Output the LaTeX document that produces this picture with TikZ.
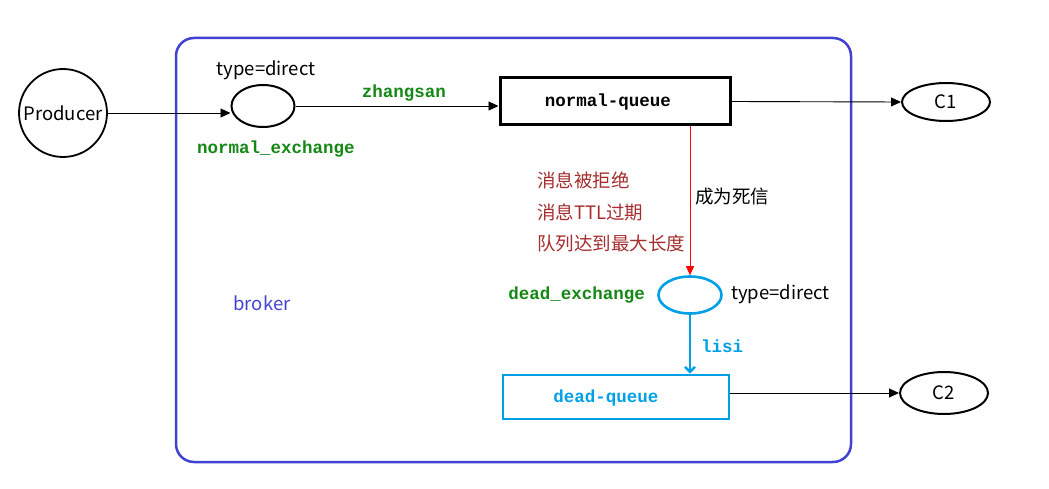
\documentclass[tikz,border=0pt]{standalone}
\usepackage{fontspec}
\setmainfont{Noto Sans CJK SC}
\newfontfamily\codefont{Liberation Mono}
\usetikzlibrary{shapes.geometric,arrows.meta}
\definecolor{brokerblue}{RGB}{66,66,210}
\definecolor{keygreen}{RGB}{20,135,20}
\definecolor{deadcyan}{RGB}{0,160,230}
\definecolor{reasonred}{RGB}{165,45,45}
\tikzset{
  x=1pt, y=-1pt,
  txt/.style={inner sep=0pt, font=\fontsize{18.5}{22}\selectfont},
  code/.style={inner sep=0pt, font=\codefont\bfseries\fontsize{17.5}{20}\selectfont},
  xchg/.style={ellipse, draw, line width=2pt, inner sep=0pt},
  cons/.style={ellipse, draw, line width=2pt, inner sep=0pt, minimum width=88pt, minimum height=38pt, font=\fontsize{18.5}{22}\selectfont},
  flow/.style={line width=0.9pt, -{Triangle[length=10pt,width=9pt]}},
}
\begin{document}
\begin{tikzpicture}
\useasboundingbox (0,0) rectangle (1049,489);

% broker boundary
\draw[brokerblue, line width=2.5pt, rounded corners=18pt] (176,38) rectangle (851,462);
\node[txt, text=brokerblue] (broker) at (262,303) {broker};

% producer and normal exchange
\node[circle, draw, line width=1.8pt, minimum size=88pt, inner sep=0pt, font=\fontsize{18.5}{22}\selectfont] (prod) at (63,113) {Producer};
\node[xchg, minimum width=63pt, minimum height=42pt] (nx) at (263,106) {};
\node[txt] (nxtype) at (266,70) {type=direct};
\node[code, text=keygreen] (nxname) at (276,149) {normal\_exchange};

% normal queue and consumer C1
\node[draw, line width=3pt, minimum width=230pt, minimum height=47pt, inner sep=0pt] (nq) at (615,101.5) {};
\node[code] (nqtext) at (608,102) {normal-queue};
\node[cons] (c1) at (946,102) {C1};

% dead-letter exchange, queue and consumer C2
\node[xchg, draw=deadcyan, line width=2.6pt, minimum width=63pt, minimum height=37pt] (dx) at (690,295) {};
\node[code, text=keygreen, anchor=east] (dxname) at (645,295) {dead\_exchange};
\node[txt, anchor=west] (dxtype) at (731,294) {type=direct};
\node[draw=deadcyan, line width=2.6pt, minimum width=226pt, minimum height=44pt, inner sep=0pt] (dq) at (616,397) {};
\node[code, text=deadcyan] (dqtext) at (606,398) {dead-queue};
\node[cons, minimum height=42pt] (c2) at (944,393) {C2};

% reasons a message becomes dead
\node[txt, text=reasonred, anchor=west] (r1) at (537,180) {消息被拒绝};
\node[txt, text=reasonred, anchor=west] (r2) at (537,212) {消息TTL过期};
\node[txt, text=reasonred, anchor=west] (r3) at (537,243) {队列达到最大长度};
\node[txt, anchor=west] (dead) at (695,197) {成为死信};

% connectors
\draw[flow] (prod.east) -- (prod.east -| nx.west);
\draw[flow] (nx.east) -- (nx.east -| nq.west);
\node[code, text=keygreen] (rk1) at (404,93) {zhangsan};
\draw[flow] (nq.east) -- (c1.west);
\draw[red, line width=0.9pt, -{Triangle[length=9pt,width=8pt]}] (dx.north |- nq.south) -- (dx.north);
\draw[deadcyan, line width=2.6pt, -{Straight Barb[length=5pt,width=10pt]}] (dx.south) -- (dx.south |- dq.north);
\node[code, text=deadcyan, anchor=west] (rk2) at (701,346) {lisi};
\draw[flow] (dq.east |- c2.west) -- (c2.west);
\end{tikzpicture}
\end{document}
